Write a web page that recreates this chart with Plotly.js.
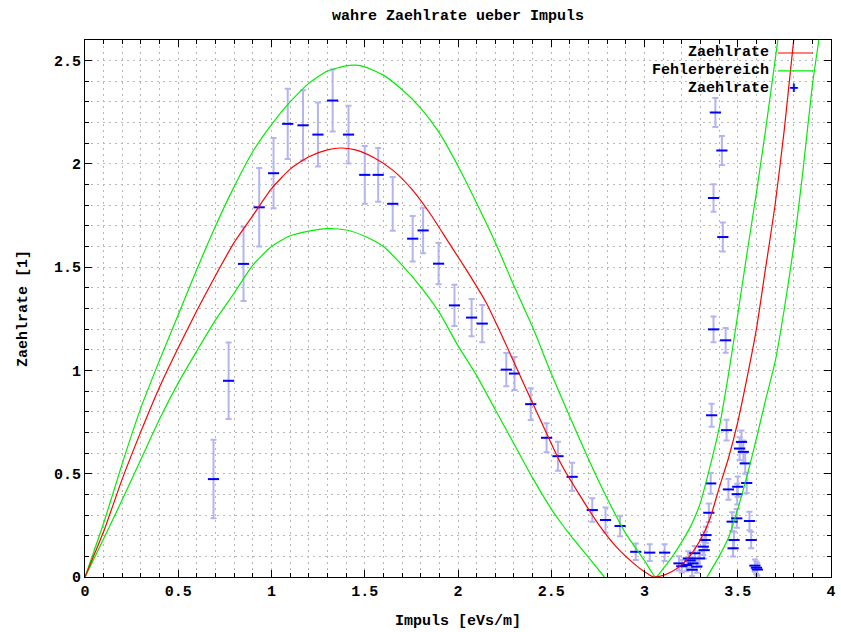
<!DOCTYPE html>
<html>
<head>
<meta charset="utf-8">
<script src="https://cdn.plot.ly/plotly-3.0.1.min.js"></script>
<style>html,body{margin:0;padding:0;background:#fff;}#chart{width:841px;height:632px;}</style>
</head>
<body>
<div id="chart"></div>
<script>
// Fitted curve "Zaehlrate" (red)
const redX = [0,0.05,0.1,0.2,0.3,0.4,0.5,0.6,0.7,0.8,0.9,1.0,1.1,1.2,1.3,1.37,1.45,1.55,1.65,1.75,1.85,1.95,2.05,2.15,2.25,2.35,2.45,2.55,2.65,2.75,2.85,2.95,3.0,3.05,3.1,3.15,3.2,3.25,3.3,3.35,3.4,3.45,3.5,3.55,3.6,3.65,3.7,3.75,3.8];
const redY = [0,0.11,0.22,0.475,0.705,0.92,1.11,1.29,1.46,1.62,1.75,1.88,1.975,2.035,2.068,2.077,2.068,2.03,1.97,1.88,1.76,1.62,1.48,1.33,1.14,0.94,0.745,0.552,0.40,0.26,0.145,0.06,0.025,0.0,0.008,0.028,0.06,0.11,0.18,0.28,0.43,0.575,0.75,0.965,1.2,1.5,1.8,2.17,2.6];

// Error band "Fehlerbereich" (green), upper edge
const upX = [0,0.05,0.1,0.2,0.3,0.4,0.5,0.6,0.7,0.8,0.9,1.0,1.1,1.2,1.3,1.4,1.45,1.5,1.6,1.7,1.8,1.9,2.0,2.1,2.2,2.3,2.4,2.5,2.6,2.7,2.8,2.9,3.0,3.06,3.1,3.15,3.2,3.25,3.3,3.35,3.4,3.45,3.5,3.55,3.6,3.65,3.7,3.715];
const upY = [0,0.13,0.26,0.55,0.82,1.05,1.27,1.49,1.70,1.89,2.06,2.19,2.30,2.39,2.45,2.475,2.478,2.47,2.43,2.36,2.27,2.15,1.99,1.81,1.62,1.41,1.21,0.985,0.775,0.57,0.38,0.21,0.08,0.0,0.04,0.1,0.17,0.25,0.36,0.53,0.72,0.98,1.27,1.57,1.86,2.17,2.5,2.6];

// Error band lower edge (null = below the axis, not drawn)
const loX = [0,0.05,0.1,0.2,0.3,0.4,0.5,0.6,0.7,0.8,0.9,1.0,1.1,1.2,1.3,1.4,1.5,1.6,1.7,1.8,1.9,2.0,2.1,2.2,2.3,2.4,2.5,2.55,2.6,2.65,2.7,2.785,3.0,3.335,3.4,3.45,3.5,3.55,3.6,3.65,3.7,3.75,3.8,3.85,3.9,3.935];
const loY = [0,0.092,0.185,0.375,0.57,0.765,0.94,1.095,1.245,1.375,1.51,1.60,1.652,1.675,1.687,1.68,1.65,1.60,1.51,1.405,1.28,1.12,0.975,0.81,0.645,0.48,0.33,0.265,0.205,0.15,0.095,0,null,0,0.1,0.19,0.33,0.49,0.67,0.86,1.04,1.3,1.6,1.97,2.38,2.6];

// Measured points "Zaehlrate" with error bars
const ptX = [0.689,0.77,0.85,0.934,1.011,1.087,1.169,1.249,1.328,1.413,1.50,1.572,1.65,1.757,1.813,1.896,1.981,2.073,2.13,2.259,2.303,2.39,2.475,2.536,2.612,2.72,2.791,2.869,2.953,3.028,3.108,3.185,
  3.20,3.225,3.235,3.245,3.255,3.26,3.27,3.28,3.295,3.315,3.32,3.325,3.33,3.345,3.355,3.36,3.37,3.37,3.38,3.415,3.42,3.435,3.44,3.45,3.47,3.475,3.48,3.495,3.50,3.497,3.51,3.52,3.53,3.54,3.548,3.563,3.572,3.592,3.605,3.60];
const ptY = [0.474,0.95,1.516,1.79,1.955,2.194,2.187,2.142,2.307,2.142,1.947,1.947,1.807,1.638,1.678,1.517,1.315,1.256,1.227,1.004,0.985,0.837,0.674,0.585,0.485,0.324,0.276,0.247,0.122,0.118,0.118,0.066,
  0.052,0.058,0.09,0.08,0.035,0.066,0.115,0.05,0.09,0.147,0.13,0.179,0.203,0.311,0.453,0.783,1.199,1.835,2.249,2.065,1.646,1.146,0.711,0.424,0.268,0.139,0.179,0.284,0.437,0.401,0.622,0.654,0.606,0.55,0.455,0.271,0.179,0.055,0.036,0.045];
const ptErr = [0.19,0.185,0.18,0.19,0.17,0.17,0.17,0.155,0.15,0.14,0.14,0.13,0.13,0.11,0.11,0.10,0.10,0.09,0.09,0.08,0.08,0.077,0.07,0.07,0.068,0.057,0.06,0.05,0.04,0.04,0.04,0.035,
  0.03,0.03,0.035,0.035,0.03,0.03,0.035,0.03,0.035,0.04,0.04,0.04,0.04,0.045,0.05,0.056,0.062,0.067,0.07,0.07,0.07,0.06,0.05,0.05,0.045,0.04,0.04,0.045,0.05,0.05,0.055,0.055,0.055,0.05,0.05,0.045,0.04,0.03,0.03,0.03];

// Axis ticks
const xMajor = [0,0.5,1,1.5,2,2.5,3,3.5,4];
const xMajorText = ["0","0.5","1","1.5","2","2.5","3","3.5","4"];
const yMajor = [0,0.5,1,1.5,2,2.5];
const yMajorText = ["0","0.5","1","1.5","2","2.5"];

// Texts
const titleText = "wahre Zaehlrate ueber Impuls";
const xTitle = "Impuls [eVs/m]";
const yTitle = "Zaehlrate [1]";
const legendNames = ["Zaehlrate","Fehlerbereich","Zaehlrate"];

const FONT = "Liberation Mono, DejaVu Sans Mono, monospace";
const RED = "#ff0000", GREEN = "#00ee00", BLUE = "#0000ff", LIGHT = "#b4b4f0";

const traces = [
  {x: ptX, y: ptY, type: "scatter", mode: "markers", name: legendNames[2],
   marker: {symbol: "line-ew", size: 8, color: BLUE, line: {color: BLUE, width: 2}},
   error_y: {type: "data", array: ptErr, visible: true, color: LIGHT, thickness: 2, width: 3}},
  {x: upX, y: upY, type: "scatter", mode: "lines", name: legendNames[1], line: {color: GREEN, width: 1.2, shape: "spline", smoothing: 0.6}},
  {x: loX, y: loY, type: "scatter", mode: "lines", name: legendNames[1], line: {color: GREEN, width: 1.2, shape: "spline", smoothing: 0.6}, connectgaps: false},
  {x: redX, y: redY, type: "scatter", mode: "lines", name: legendNames[0], line: {color: RED, width: 1.2, shape: "spline", smoothing: 0.6}}
];

function px2paperX(p){ return (p - 85) / 746; }
function px2paperY(p){ return (577.5 - p) / 537.5; }

const legendRows = [53, 71, 89];
const annotations = legendNames.map((t, i) => ({
  text: "<b>" + t + "</b>", xref: "paper", yref: "paper",
  x: px2paperX(771), y: px2paperY(legendRows[i]), xanchor: "right", yanchor: "middle",
  showarrow: false, font: {family: FONT, size: 15, color: "#000"}
}));
annotations.push({text: "<b>+</b>", xref: "paper", yref: "paper", x: px2paperX(794), y: px2paperY(89),
  xanchor: "center", yanchor: "middle", showarrow: false, font: {family: FONT, size: 16, color: BLUE}});

const shapes = [
  {type: "line", xref: "paper", yref: "paper", x0: px2paperX(778), x1: px2paperX(813), y0: px2paperY(53), y1: px2paperY(53), line: {color: RED, width: 1.2}},
  {type: "line", xref: "paper", yref: "paper", x0: px2paperX(778), x1: px2paperX(813), y0: px2paperY(71), y1: px2paperY(71), line: {color: GREEN, width: 1.2}}
];

const gridColor = "#b8b8b8", gridDash = "2px,4px";

const layout = {
  width: 841, height: 632,
  margin: {l: 85, r: 10, t: 40, b: 55, pad: 0},
  paper_bgcolor: "#fff", plot_bgcolor: "#fff",
  showlegend: false,
  font: {family: FONT, size: 15, color: "#000"},
  title: {text: "<b>" + titleText + "</b>", x: 0.5, xref: "paper", xanchor: "center", y: 1 - 15/632, yref: "container", yanchor: "middle",
          font: {family: FONT, size: 15, color: "#000"}},
  xaxis: {range: [0, 4], tickvals: xMajor, ticktext: xMajorText, ticks: "inside", ticklen: 7, tickcolor: "#000", tickwidth: 1,
          showline: true, linecolor: "#000", linewidth: 1, mirror: "allticks", zeroline: false,
          showgrid: true, gridcolor: gridColor, gridwidth: 1, griddash: gridDash,
          minor: {dtick: 0.1, ticks: "inside", ticklen: 4, tickcolor: "#000", showgrid: true, gridcolor: gridColor, griddash: gridDash, gridwidth: 1},
          tickfont: {family: FONT, size: 15, color: "#000", weight: "bold"},
          title: {text: "<b>" + xTitle + "</b>", standoff: 14, font: {family: FONT, size: 15, color: "#000"}}},
  yaxis: {range: [0, 2.6], tickvals: yMajor, ticktext: yMajorText, ticks: "inside", ticklen: 7, tickcolor: "#000", tickwidth: 1,
          showline: true, linecolor: "#000", linewidth: 1, mirror: "allticks", zeroline: false,
          showgrid: true, gridcolor: gridColor, gridwidth: 1, griddash: gridDash,
          minor: {dtick: 0.1, ticks: "inside", ticklen: 4, tickcolor: "#000", showgrid: true, gridcolor: gridColor, griddash: gridDash, gridwidth: 1},
          tickfont: {family: FONT, size: 15, color: "#000", weight: "bold"},
          title: {text: "<b>" + yTitle + "</b>", standoff: 22, font: {family: FONT, size: 15, color: "#000"}}},
  annotations: annotations,
  shapes: shapes
};

Plotly.newPlot("chart", traces, layout, {staticPlot: true, displayModeBar: false});
</script>
</body>
</html>
